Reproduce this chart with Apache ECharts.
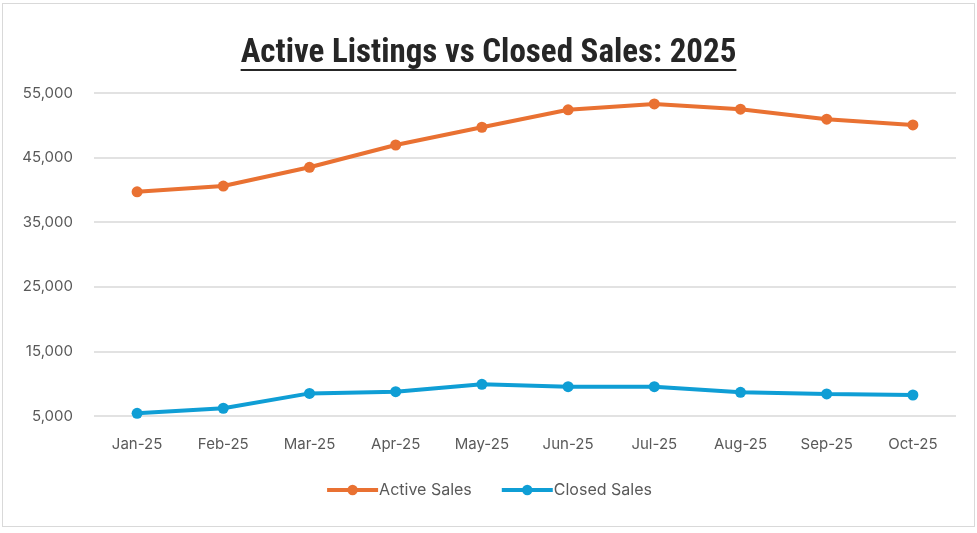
<!DOCTYPE html>
<html>
<head>
<meta charset="utf-8">
<script src="https://cdn.jsdelivr.net/npm/echarts@6/dist/echarts.min.js"></script>
<style>
  html, body { margin: 0; padding: 0; background: #fff; }
  #frame {
    position: absolute; left: 2px; top: 3px; width: 971px; height: 522px;
    border: 1px solid #d9d9d9; box-sizing: content-box;
  }
  #chart { position: absolute; left: 0; top: 0; width: 977px; height: 533px; }
</style>
</head>
<body>
<div id="frame"></div>
<div id="chart"></div>
<script>
// categories and values
var months = ['Jan-25', 'Feb-25', 'Mar-25', 'Apr-25', 'May-25', 'Jun-25', 'Jul-25', 'Aug-25', 'Sep-25', 'Oct-25'];
var activeSales = [39700, 40600, 43500, 46950, 49700, 52400, 53300, 52500, 50950, 50050];
var closedSales = [5420, 6200, 8500, 8770, 9900, 9540, 9540, 8660, 8420, 8250];
var yMin = 5000, yMax = 55000, yStep = 10000;

var chart = echarts.init(document.getElementById('chart'));

var labelFont = 'Inter, "Noto Sans", sans-serif';
var titleFont = '"Liberation Sans Narrow", "Roboto Condensed", "DejaVu Sans Condensed", sans-serif';
var titleSize = 33;

var option = {
  animation: false,
  color: ['#E97132', '#0F9ED5'],
  title: {
    text: 'Active Listings vs Closed Sales: 2025',
    left: 'center',
    top: 32,
    textStyle: {
      fontFamily: titleFont,
      fontWeight: 'bold',
      fontSize: titleSize,
      color: '#262626'
    }
  },
  legend: {
    bottom: 30,
    left: 'center',
    itemWidth: 51,
    itemHeight: 13,
    itemGap: 28,
    lineStyle: { width: 4 },
    textStyle: { color: '#595959', fontSize: 16, fontFamily: labelFont, padding: [0, 0, 0, -4] },
    data: ['Active Sales', 'Closed Sales']
  },
  grid: {
    left: 94,
    right: 21,
    top: 93,
    bottom: 117,
    containLabel: false
  },
  xAxis: {
    type: 'category',
    data: months,
    boundaryGap: true,
    axisLine: { show: false },
    axisTick: { show: false },
    axisLabel: { color: '#595959', fontSize: 15, fontFamily: labelFont, margin: 21 }
  },
  yAxis: {
    type: 'value',
    min: yMin,
    max: yMax,
    interval: yStep,
    axisLine: { show: false },
    axisTick: { show: false },
    axisLabel: {
      color: '#595959', fontSize: 15, fontFamily: labelFont, margin: 21,
      formatter: function (v) { return v.toLocaleString('en-US'); }
    },
    splitLine: { lineStyle: { color: '#d9d9d9', width: 1.5 } }
  },
  series: [
    {
      name: 'Active Sales',
      type: 'line',
      data: activeSales,
      symbol: 'circle',
      symbolSize: 11,
      lineStyle: { width: 4 }
    },
    {
      name: 'Closed Sales',
      type: 'line',
      data: closedSales,
      symbol: 'circle',
      symbolSize: 11,
      lineStyle: { width: 4 }
    }
  ]
};
chart.setOption(option);

// underline under the title, sized to the drawn title text
var tw = 0;
(function () {
  var c = document.createElement('canvas').getContext('2d');
  c.font = 'bold ' + titleSize + 'px ' + titleFont;
  tw = c.measureText(option.title.text).width;
})();
chart.setOption({
  graphic: [{
    type: 'rect',
    shape: { x: 977 / 2 - tw / 2, y: 69, width: tw, height: 2 },
    style: { fill: '#262626' }
  }]
});
</script>
</body>
</html>
